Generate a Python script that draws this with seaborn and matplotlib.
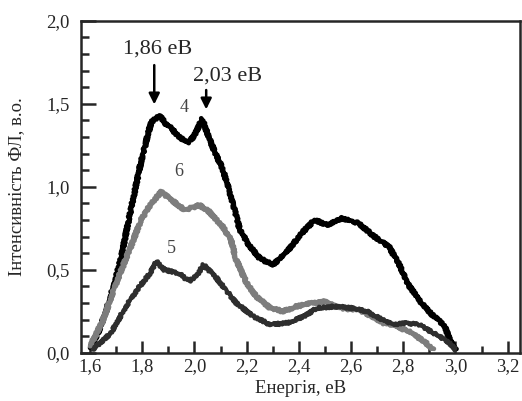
import numpy as np
import pandas as pd
import seaborn as sns
import matplotlib.pyplot as plt
from matplotlib.ticker import MultipleLocator, FuncFormatter

# curve 4 (black)
e4 = [1.60, 1.63, 1.659, 1.69, 1.717, 1.756, 1.795, 1.834, 1.866, 1.89, 1.913, 1.94, 1.98,
      2.00, 2.03, 2.057, 2.08, 2.108, 2.14, 2.174, 2.213, 2.25, 2.30, 2.35, 2.41, 2.46,
      2.51, 2.565, 2.63, 2.69, 2.745, 2.785, 2.82, 2.86, 2.91, 2.955, 2.98, 3.00]
i4 = [0.03, 0.12, 0.24, 0.40, 0.56, 0.86, 1.15, 1.39, 1.43, 1.38, 1.35, 1.30, 1.27,
      1.31, 1.41, 1.29, 1.20, 1.11, 0.94, 0.74, 0.64, 0.57, 0.53, 0.60, 0.72, 0.80,
      0.77, 0.81, 0.78, 0.70, 0.64, 0.53, 0.41, 0.32, 0.23, 0.17, 0.08, 0.02]

# curve 6 (grey)
e6 = [1.60, 1.65, 1.705, 1.756, 1.795, 1.834, 1.873, 1.913, 1.963, 2.018, 2.057, 2.108,
      2.14, 2.16, 2.20, 2.237, 2.29, 2.34, 2.39, 2.45, 2.50, 2.55, 2.63, 2.68, 2.725,
      2.76, 2.82, 2.88, 2.915]
i6 = [0.04, 0.20, 0.44, 0.64, 0.80, 0.90, 0.97, 0.92, 0.86, 0.89, 0.85, 0.76,
      0.68, 0.56, 0.42, 0.34, 0.27, 0.25, 0.28, 0.30, 0.31, 0.27, 0.26, 0.22, 0.18,
      0.17, 0.13, 0.07, 0.02]

# curve 5 (dark grey)
e5 = [1.61, 1.68, 1.73, 1.78, 1.83, 1.854, 1.885, 1.94, 1.98, 2.01, 2.035, 2.08, 2.12,
      2.16, 2.226, 2.29, 2.355, 2.42, 2.47, 2.54, 2.60, 2.66, 2.72, 2.76, 2.80, 2.86,
      2.915, 2.97, 3.00]
i5 = [0.02, 0.12, 0.26, 0.38, 0.48, 0.55, 0.50, 0.48, 0.43, 0.47, 0.53, 0.46, 0.38,
      0.30, 0.22, 0.17, 0.18, 0.22, 0.27, 0.28, 0.27, 0.25, 0.20, 0.17, 0.18, 0.17,
      0.12, 0.07, 0.02]

sns.set_style("ticks")
plt.rcParams["font.family"] = ["Liberation Serif", "DejaVu Serif"]

fig = plt.figure(figsize=(5.22, 4.01), dpi=100)
ax = fig.add_axes([0.155, 0.12, 0.841, 0.828])

sns.lineplot(x=e4, y=i4, sort=False, color="black", lw=3.4, ax=ax)
sns.lineplot(x=e6, y=i6, sort=False, color="#7d7d7d", lw=3.4, ax=ax)
sns.lineplot(x=e5, y=i5, sort=False, color="#2e2e2e", lw=3.0, ax=ax)
# scanned spectra look ragged
for ln in ax.lines:
    ln.set_sketch_params(scale=1.3, length=3, randomness=2)

ax.set_xlim(1.565, 3.247)
ax.set_ylim(0, 2.0)
ax.xaxis.set_major_locator(MultipleLocator(0.2))
ax.xaxis.set_minor_locator(MultipleLocator(0.1))
ax.yaxis.set_major_locator(MultipleLocator(0.5))
ax.yaxis.set_minor_locator(MultipleLocator(0.1))
fmt = FuncFormatter(lambda v, p: f"{v:.1f}".replace(".", ","))
ax.xaxis.set_major_formatter(fmt)
ax.yaxis.set_major_formatter(fmt)

ax.tick_params(which="both", direction="in", width=1.8, labelsize=13.5)
ax.tick_params(axis="x", which="major", length=9, pad=4)
ax.tick_params(axis="x", which="minor", length=5)
ax.tick_params(axis="y", which="major", length=11, pad=8)
ax.tick_params(axis="y", which="minor", length=6)
for s in ax.spines.values():
    s.set_linewidth(1.8)

ax.set_xlabel("Енергія, еВ", fontsize=13.5, labelpad=3)
ax.set_ylabel("Інтенсивність ФЛ, в.о.", fontsize=13.5)
ax.yaxis.set_label_coords(-0.128, 0.5)

ax.annotate("", xy=(1.846, 1.48), xytext=(1.846, 1.75),
            arrowprops=dict(arrowstyle="-|>", color="black", lw=1.8, mutation_scale=16))
ax.annotate("", xy=(2.045, 1.45), xytext=(2.045, 1.60),
            arrowprops=dict(arrowstyle="-|>", color="black", lw=1.8, mutation_scale=16))
ax.text(1.858, 1.83, "1,86 eB", fontsize=16, ha="center", va="center")
ax.text(2.127, 1.67, "2,03 eB", fontsize=16, ha="center", va="center")
ax.text(1.96, 1.48, "4", fontsize=13, ha="center", va="center", color="#444444")
ax.text(1.94, 1.09, "6", fontsize=13, ha="center", va="center", color="#444444")
ax.text(1.91, 0.63, "5", fontsize=13, ha="center", va="center", color="#444444")

fig.savefig("out.png", dpi=100)
